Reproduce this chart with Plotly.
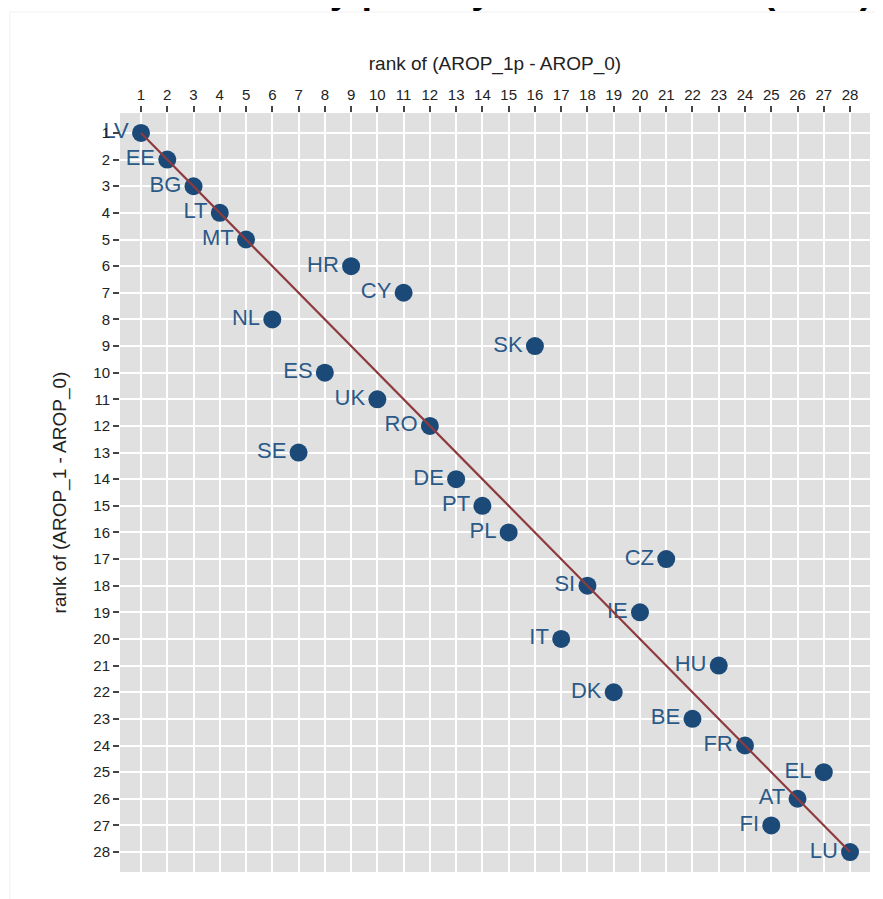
import plotly.graph_objects as go

countries = ["LV", "EE", "BG", "LT", "MT", "HR", "CY", "NL", "SK", "ES", "UK", "RO", "SE", "DE",
             "PT", "PL", "CZ", "SI", "IE", "IT", "HU", "DK", "BE", "FR", "EL", "AT", "FI", "LU"]
rank_x = [1, 2, 3, 4, 5, 9, 11, 6, 16, 8, 10, 12, 7, 13,
          14, 15, 21, 18, 20, 17, 23, 19, 22, 24, 27, 26, 25, 28]
rank_y = [1, 2, 3, 4, 5, 6, 7, 8, 9, 10, 11, 12, 13, 14,
          15, 16, 17, 18, 19, 20, 21, 22, 23, 24, 25, 26, 27, 28]
ticks = list(range(1, 29))
diag = [1, 28]

fig = go.Figure()
fig.add_trace(go.Scatter(
    x=rank_x, y=rank_y, mode="markers+text", text=countries,
    textposition="middle left",
    textfont=dict(family="Liberation Sans, Arial", size=22, color="#2b5a88"),
    marker=dict(size=18, color="#1b4a78"),
    showlegend=False, cliponaxis=False,
))
fig.add_trace(go.Scatter(
    x=diag, y=diag, mode="lines",
    line=dict(color="#8e3b3f", width=2.2),
    showlegend=False, cliponaxis=False,
))

axis_common = dict(
    tickvals=ticks, ticktext=[str(t) for t in ticks],
    showgrid=True, gridcolor="white", gridwidth=2,
    zeroline=False, showline=False,
    ticks="outside", ticklen=6, tickwidth=1.5, tickcolor="#444",
    tickfont=dict(family="Liberation Sans, Arial", size=15, color="#222"),
)
fig.update_xaxes(range=[0.2, 28.76], side="top",
                 title=dict(text="rank of (AROP_1p - AROP_0)",
                            font=dict(family="Liberation Sans, Arial", size=19, color="#222"),
                            standoff=10),
                 **axis_common)
fig.update_yaxes(range=[28.75, 0.25],
                 title=dict(text="rank of (AROP_1 - AROP_0)",
                            font=dict(family="Liberation Sans, Arial", size=19, color="#222"),
                            standoff=21),
                 **axis_common)

fig.add_annotation(
    text="<b>Policy priority and rank shift (2014)</b>",
    xref="paper", yref="paper", x=1.007, y=1, xanchor="right", yanchor="bottom",
    yshift=100, showarrow=False,
    font=dict(family="Liberation Sans, Arial", size=38, color="#000"),
)
fig.add_shape(type="rect", xref="paper", yref="paper",
              x0=-0.147, x1=1.02, y0=-0.04, y1=1.133,
              line=dict(color="#f0f0f0", width=1), fillcolor="rgba(0,0,0,0)", layer="below")

fig.update_layout(
    width=875, height=891,
    margin=dict(l=112, r=13, t=105, b=27),
    plot_bgcolor="#e0e0e0", paper_bgcolor="white",
)
fig.write_html("out.html")
